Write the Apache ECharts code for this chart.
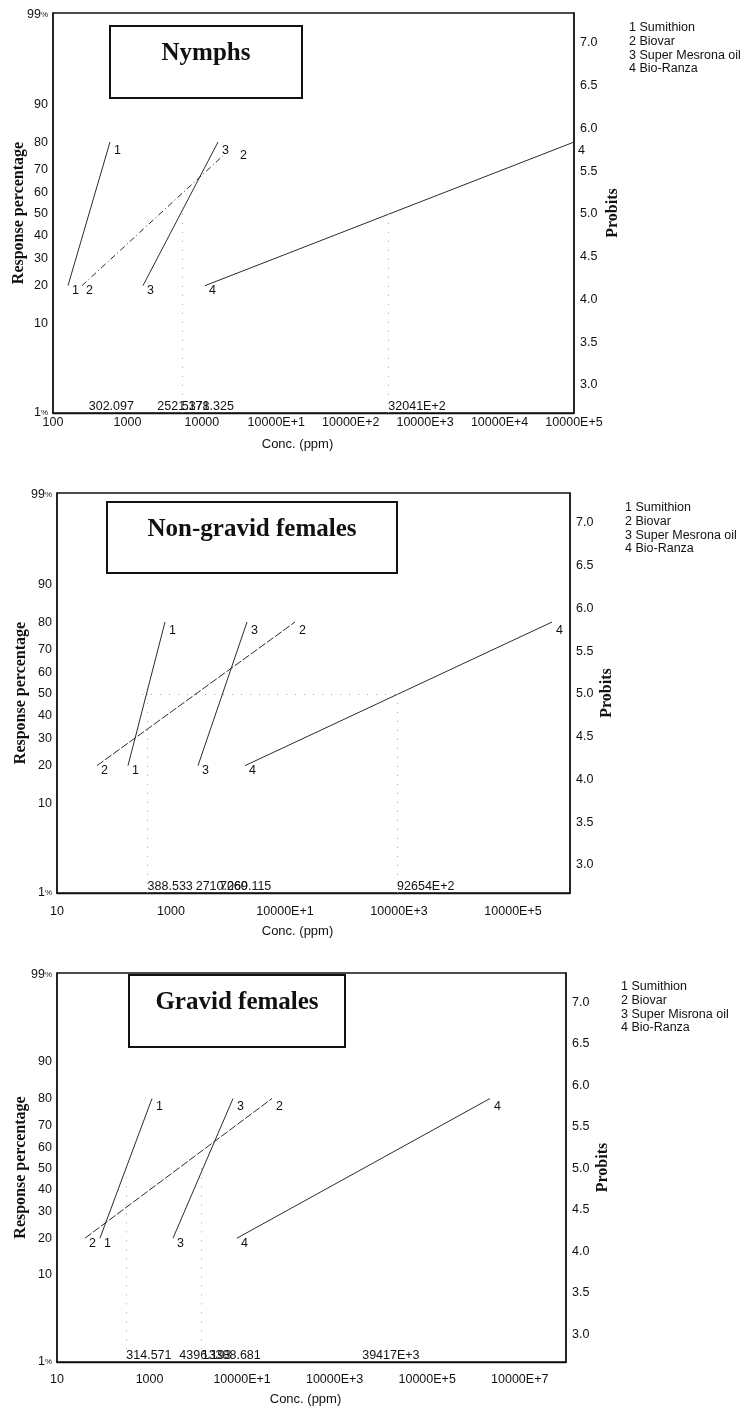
<!DOCTYPE html>
<html><head><meta charset="utf-8">
<script src="https://cdn.jsdelivr.net/npm/echarts@6/dist/echarts.min.js"></script>
<style>html,body{margin:0;padding:0;background:#fff}#c{width:751px;height:1406px}</style>
</head><body><div id="c"></div>
<script>
// ---------------- data ----------------
const panelTitles = ['Nymphs', 'Non-gravid females', 'Gravid females'];
const lineNumbers = ['1', '2', '3', '4'];
const insecticidesA = ['1 Sumithion', '2 Biovar', '3 Super Mesrona oil', '4 Bio-Ranza'];
const insecticidesB = ['1 Sumithion', '2 Biovar', '3 Super Misrona oil', '4 Bio-Ranza'];

const pctTickProbits = [2.67, 3.72, 4.16, 4.48, 4.75, 5.00, 5.25, 5.52, 5.84, 6.28, 7.33];
const pctTickLabels = ['1%', '10', '20', '30', '40', '50', '60', '70', '80', '90', '99%'];
const probitTicks = [3.0, 3.5, 4.0, 4.5, 5.0, 5.5, 6.0, 6.5, 7.0];

const nymphXTicks = [1e2, 1e3, 1e4, 1e5, 1e6, 1e7, 1e8, 1e9];
const nymphXLabels = ['100', '1000', '10000', '10000E+1', '10000E+2', '10000E+3', '10000E+4', '10000E+5'];
const nonGravidXTicks = [1e1, 1e3, 1e5, 1e7, 1e9];
const nonGravidXLabels = ['10', '1000', '10000E+1', '10000E+3', '10000E+5'];
const gravidXTicks = [1e1, 1e3, 1e5, 1e7, 1e9, 1e11];
const gravidXLabels = ['10', '1000', '10000E+1', '10000E+3', '10000E+5', '10000E+7'];

// regression line end points: concentration (ppm) and probit
const nymphLowConc = [159, 245, 1618, 11020];
const nymphLowProbit = [4.16, 4.16, 4.16, 4.16];
const nymphHighConc = [583, 19230, 16480, 1.0e9];
const nymphHighProbit = [5.84, 5.68, 5.84, 5.84];
const nymphLC50 = [302.097, 2521.178, 5371.325, 3204100];
const nymphLC50Text = ['302.097', '2521.178', '5371.325', '32041E+2'];
const nymphGuides = [2, 3];

const nonGravidLowConc = [176, 50.3, 2978, 19860];
const nonGravidLowProbit = [4.16, 4.16, 4.16, 4.16];
const nonGravidHighConc = [785, 149600, 21540, 4.83e9];
const nonGravidHighProbit = [5.84, 5.84, 5.84, 5.84];
const nonGravidLC50 = [388.533, 2710.060, 7269.115, 9265400];
const nonGravidLC50Text = ['388.533', '2710.060', '7269.115', '92654E+2'];
const nonGravidGuides = [0, 3];

const gravidLowConc = [84.9, 40.3, 3214, 77600];
const gravidLowProbit = [4.16, 4.16, 4.16, 4.16];
const gravidHighConc = [1130, 443600, 63680, 2.28e10];
const gravidHighProbit = [5.84, 5.84, 5.84, 5.84];
const gravidLC50 = [314.571, 4396.193, 13388.681, 39417000];
const gravidLC50Text = ['314.571', '4396.193', '13388.681', '39417E+3'];
const gravidGuides = [0, 2];

// ---------------- layout ----------------
const Y_MIN = 2.67, Y_MAX = 7.35;
const SANS = '"Liberation Sans", Arial, sans-serif';
const SERIF = '"Liberation Serif", "Times New Roman", serif';
const INK = '#111';

const panels = [
  { grid: { left: 53, top: 13, width: 521, height: 400 }, xMin: 1e2, xMax: 1e9,
    xTicks: nymphXTicks, xLabels: nymphXLabels, names: insecticidesA,
    low: nymphLowConc, lowP: nymphLowProbit, high: nymphHighConc, highP: nymphHighProbit,
    lc50: nymphLC50, lc50Text: nymphLC50Text, guides: nymphGuides, hGuide: false,
    title: { left: 110, top: 26, w: 192, h: 72, lh: 56 }, legend: { left: 624, top: 21 },
    xMargin: 3, xNameGap: 25, xNameShift: 32, yNameGap: 26, rNameGap: 31, dash: [6, 3, 1, 3],
    topLabelShift: [[1, 8], [14, 0], [1, 8], [1, 8]] },
  { grid: { left: 57, top: 493, width: 513, height: 400 }, xMin: 1e1, xMax: 1e10,
    xTicks: nonGravidXTicks, xLabels: nonGravidXLabels, names: insecticidesA,
    low: nonGravidLowConc, lowP: nonGravidLowProbit, high: nonGravidHighConc, highP: nonGravidHighProbit,
    lc50: nonGravidLC50, lc50Text: nonGravidLC50Text, guides: nonGravidGuides, hGuide: true,
    title: { left: 107, top: 502, w: 290, h: 71, lh: 55 }, legend: { left: 620, top: 501 },
    xMargin: 12, xNameGap: 32, xNameShift: 32, yNameGap: 28, rNameGap: 29, dash: [8, 2],
    topLabelShift: [[1, 8], [1, 8], [1, 8], [1, 8]] },
  { grid: { left: 57, top: 973, width: 509, height: 389 }, xMin: 1e1, xMax: 1e12,
    xTicks: gravidXTicks, xLabels: gravidXLabels, names: insecticidesB,
    low: gravidLowConc, lowP: gravidLowProbit, high: gravidHighConc, highP: gravidHighProbit,
    lc50: gravidLC50, lc50Text: gravidLC50Text, guides: gravidGuides, hGuide: false,
    title: { left: 129, top: 975, w: 216, h: 72, lh: 56 }, legend: { left: 616, top: 980 },
    xMargin: 11, xNameGap: 31, xNameShift: 12, yNameGap: 28, rNameGap: 29, dash: [8, 2],
    topLabelShift: [[1, 8], [1, 8], [1, 8], [1, 8]] }
];

const grid = [], xAxis = [], yAxis = [], series = [], title = [], legend = [];

panels.forEach((P, i) => {
  grid.push(Object.assign({ show: true, borderColor: INK, borderWidth: 1.3, backgroundColor: 'transparent',
    containLabel: false, outerBoundsMode: 'none' }, P.grid));

  xAxis.push({
    type: 'log', logBase: 10, gridIndex: i, min: P.xMin, max: P.xMax,
    name: 'Conc. (ppm)', nameLocation: 'middle', nameGap: P.xNameGap, nameMoveOverlap: false,
    nameTextStyle: { fontFamily: SANS, fontSize: 13, color: INK, padding: [0, P.xNameShift, 0, 0] },
    axisLine: { show: true, lineStyle: { color: INK, width: 1.3 } },
    axisTick: { show: false }, splitLine: { show: false },
    axisLabel: {
      customValues: P.xTicks, margin: P.xMargin, fontFamily: SANS, fontSize: 12.5, color: INK,
      formatter: v => {
        const e = Math.round(Math.log10(v));
        const k = P.xTicks.findIndex(t => Math.round(Math.log10(t)) === e);
        return k >= 0 ? P.xLabels[k] : '';
      }
    }
  });

  yAxis.push({
    type: 'value', gridIndex: i, min: Y_MIN, max: Y_MAX, position: 'left',
    name: 'Response percentage', nameLocation: 'middle', nameGap: P.yNameGap, nameRotate: 90,
    nameMoveOverlap: false,
    nameTextStyle: { fontFamily: SERIF, fontWeight: 'bold', fontSize: 16, color: INK },
    axisLine: { show: true, lineStyle: { color: INK, width: 1.5 } },
    axisTick: { show: false }, splitLine: { show: false },
    axisLabel: {
      customValues: pctTickProbits, margin: 5, fontFamily: SANS, fontSize: 12.5, color: INK,
      formatter: v => {
        const k = pctTickProbits.findIndex(t => Math.abs(t - v) < 1e-6);
        if (k < 0) return '';
        const s = pctTickLabels[k];
        return s.endsWith('%') ? s.slice(0, -1) + '{p|%}' : s;
      },
      rich: { p: { fontSize: 8, color: INK, fontFamily: SANS } }
    }
  });

  yAxis.push({
    type: 'value', gridIndex: i, min: Y_MIN, max: Y_MAX, position: 'right',
    name: 'Probits', nameLocation: 'middle', nameGap: P.rNameGap, nameRotate: 90,
    nameMoveOverlap: false,
    nameTextStyle: { fontFamily: SERIF, fontWeight: 'bold', fontSize: 16, color: INK },
    axisLine: { show: true, lineStyle: { color: INK, width: 1.5 } },
    axisTick: { show: false }, splitLine: { show: false },
    axisLabel: {
      customValues: probitTicks, margin: 6, fontFamily: SANS, fontSize: 12.5, color: INK,
      formatter: v => v.toFixed(1)
    }
  });

  P.names.forEach((nm, k) => {
    series.push({
      type: 'line', name: nm, xAxisIndex: i, yAxisIndex: 2 * i,
      symbol: 'circle', symbolSize: 0, showSymbol: true, clip: false,
      lineStyle: { color: '#2b2b2b', width: 1, type: k === 1 ? P.dash : 'solid' },
      itemStyle: { color: '#2b2b2b', opacity: 1 },
      label: { show: true, color: INK, fontFamily: SANS, fontSize: 12.5, position: 'right', distance: 3 },
      emphasis: { disabled: true },
      data: [
        { value: [P.low[k], P.lowP[k]], label: { formatter: lineNumbers[k], offset: [1, 5] } },
        { value: [P.high[k], P.highP[k]], label: { formatter: lineNumbers[k], offset: P.topLabelShift[k] } }
      ],
      z: 3
    });
  });

  const guideLines = P.guides.map(k => [
    { coord: [P.lc50[k], 5.0] }, { coord: [P.lc50[k], Y_MIN] }
  ]);
  if (P.hGuide) {
    guideLines.push([{ coord: [P.lc50[0] * 0.8, 5.0] }, { coord: [P.lc50[3], 5.0] }]);
  }

  series.push({
    type: 'scatter', xAxisIndex: i, yAxisIndex: 2 * i, symbolSize: 0, clip: false,
    emphasis: { disabled: true }, silent: true,
    itemStyle: { opacity: 1, color: INK },
    label: { show: true, position: 'right', distance: 0, offset: [0, -6], color: INK, opacity: 1,
      fontFamily: SANS, fontSize: 12.5 },
    data: P.lc50.map((v, k) => ({ value: [v, Y_MIN], label: { formatter: P.lc50Text[k] } })),
    markLine: {
      silent: true, symbol: 'none', animation: false,
      lineStyle: { type: [1, 8], color: '#a0a0a0', width: 1 },
      label: { show: false },
      data: guideLines
    },
    z: 2
  });

  title.push({
    text: '{t|' + panelTitles[i] + '}',
    left: P.title.left, top: P.title.top,
    padding: [0, 0, P.title.h - P.title.lh, 0],
    borderColor: INK, borderWidth: 2,
    textStyle: {
      rich: { t: { width: P.title.w, height: P.title.lh, lineHeight: P.title.lh, align: 'center',
        fontFamily: SERIF, fontWeight: 'bold', fontSize: 25, color: INK } }
    }
  });

  legend.push({
    data: P.names, orient: 'vertical', left: P.legend.left, top: P.legend.top,
    itemWidth: 0, itemHeight: 0, itemGap: 0, icon: 'rect', padding: 0, selectedMode: false,
    textStyle: { fontFamily: SANS, fontSize: 12.5, lineHeight: 13.7, color: INK }
  });
});

const chart = echarts.init(document.getElementById('c'), null, { renderer: 'canvas' });
chart.setOption({
  backgroundColor: '#fff',
  animation: false,
  textStyle: { fontFamily: SANS },
  title, legend, grid, xAxis, yAxis, series
});
</script>
</body></html>
